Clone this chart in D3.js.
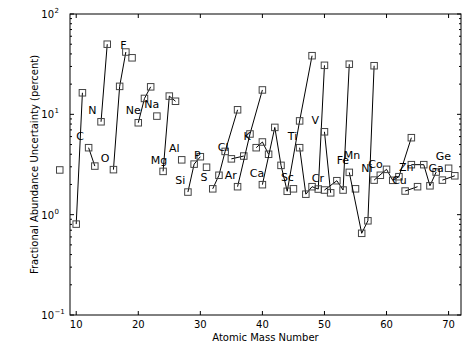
<!DOCTYPE html>
<html>
  <head>
    <meta charset="utf-8">
    <script src="https://cdn.jsdelivr.net/npm/d3@7"></script>
    <style>
    body {
      margin: 0;
      background: #fff;
    }
    svg text {
      font-family: "DejaVu Sans", sans-serif;
    }
    .iso-line {
      fill: none;
      stroke: #000;
      stroke-width: 1px;
    }
    .iso-mark {
      fill: none;
      stroke: #444;
      stroke-width: 1px;
    }
    </style>
  </head>
  <body>
    <script>
    // element symbols, isotope masses and abundance uncertainty (percent)
    var elements = ["Li", "B", "C", "N", "O", "F", "Ne", "Na", "Mg", "Al", "Si", "P", "S", "Cl", "Ar", "K",
                    "Ca", "Sc", "Ti", "V", "Cr", "Mn", "Fe", "Co", "Ni", "Cu", "Zn", "Ga", "Ge"];
    var masses = [
      [7.35], [10, 11], [12, 13], [14, 15], [16, 17, 18], [19], [20, 21, 22], [23], [24, 25, 26], [27],
      [28, 29, 30], [31], [32, 33, 34, 36], [35, 37], [36, 38, 40], [39, 40, 41],
      [40, 42, 43, 44, 46, 48], [45], [46, 47, 48, 49, 50], [50, 51], [50, 52, 53, 54], [55],
      [54, 56, 57, 58], [59], [58, 60, 61, 62, 64], [63, 65], [64, 66, 67, 68], [69, 71], [70]
    ];
    var uncert = [
      [2.79], [0.805, 16.4], [4.65, 3.05], [8.43, 50], [2.81, 19.0, 41.8], [36.6], [8.24, 14.4, 18.8], [9.6],
      [2.7, 15.2, 13.5], [3.52], [1.68, 3.19, 3.78], [2.97], [1.81, 2.47, 4.27, 11.1], [3.6, 3.84],
      [1.9, 6.37, 17.5], [4.65, 5.3, 4.0], [1.99, 7.41, 3.1, 1.71, 8.6, 38.4], [1.81],
      [4.65, 1.6, 1.9, 1.8, 30.8], [6.7, 1.65], [1.76, 2.18, 1.76, 31.6], [1.81],
      [2.64, 0.652, 0.869, 30.5], [2.47], [2.21, 2.83, 2.2, 2.39, 5.85], [1.72, 1.9],
      [3.15, 3.15, 1.94, 2.66], [2.21, 2.44], [2.9]
    ];
    // where each symbol is written, in data units (null = no label)
    var labelMass = [null, null, 10.64, 12.62, 14.66, 17.6, 19.21, 22.17, 23.34, 25.8, 26.77, 29.53, 30.58, 33.68,
                     34.92, 37.54, 39.14, 44.03, 44.85, 48.53, 48.95, 54.42, 52.97, 58.23, 56.83, 62.09, 63.16, 67.99, 69.16];
    var labelVal = [null, null, 5.98, 11.0, 3.64, 48.3, 10.9, 12.4, 3.44, 4.61, 2.2, 3.9, 2.35, 4.65,
                    2.44, 6.08, 2.58, 2.37, 6.04, 8.63, 2.3, 3.93, 3.44, 3.17, 2.9, 2.21, 2.96, 2.9, 3.78];

    var xTicks = [10, 20, 30, 40, 50, 60, 70];
    var yTicks = [0.1, 1, 10, 100];
    var yExp = ["\u22121", "0", "1", "2"];

    var width = 468, height = 362;
    var margin = {left: 70, right: 7, top: 14, bottom: 47};

    var x = d3.scaleLinear().domain([9, 72]).range([margin.left, width - margin.right]);
    var y = d3.scaleLog().domain([0.1, 100]).range([height - margin.bottom, margin.top]);

    var svg = d3.select("body").append("svg")
        .attr("width", width)
        .attr("height", height);

    // minor ticks on the log axis
    var minor = [];
    [0.1, 1, 10].forEach(function (d) {
      for (var k = 2; k < 10; k++) minor.push(d * k);
    });

    var axes = svg.append("g");
    var x0 = x.range()[0], x1 = x.range()[1], y0 = y.range()[0], y1 = y.range()[1];

    minor.forEach(function (v) {
      axes.append("line").attr("x1", x0).attr("x2", x0 + 2).attr("y1", y(v)).attr("y2", y(v)).attr("stroke", "#000");
      axes.append("line").attr("x1", x1).attr("x2", x1 - 2).attr("y1", y(v)).attr("y2", y(v)).attr("stroke", "#000");
    });
    yTicks.forEach(function (v, i) {
      axes.append("line").attr("x1", x0).attr("x2", x0 + 4).attr("y1", y(v)).attr("y2", y(v)).attr("stroke", "#000");
      axes.append("line").attr("x1", x1).attr("x2", x1 - 4).attr("y1", y(v)).attr("y2", y(v)).attr("stroke", "#000");
      var t = axes.append("text")
          .attr("x", x0 - 16)
          .attr("y", y(v) + 4)
          .attr("text-anchor", "end")
          .style("font-size", "10px");
      t.text("10");
      axes.append("text")
          .attr("x", x0 - 15.5)
          .attr("y", y(v) - 1)
          .style("font-size", "7px")
          .text(yExp[i]);
    });
    xTicks.forEach(function (v) {
      axes.append("line").attr("x1", x(v)).attr("x2", x(v)).attr("y1", y0).attr("y2", y0 - 4).attr("stroke", "#000");
      axes.append("line").attr("x1", x(v)).attr("x2", x(v)).attr("y1", y1).attr("y2", y1 + 4).attr("stroke", "#000");
      axes.append("text")
          .attr("x", x(v))
          .attr("y", y0 + 13)
          .attr("text-anchor", "middle")
          .style("font-size", "10px")
          .text(v);
    });

    axes.append("text")
        .attr("x", (x0 + x1) / 2)
        .attr("y", y0 + 26)
        .attr("text-anchor", "middle")
        .style("font-size", "10px")
        .text("Atomic Mass Number");

    axes.append("text")
        .attr("transform", "translate(" + 38 + "," + ((y0 + y1) / 2) + ") rotate(-90)")
        .attr("text-anchor", "middle")
        .style("font-size", "10px")
        .text("Fractional Abundance Uncertainty (percent)");

    var line = d3.line()
        .x(function (d) { return x(d[0]); })
        .y(function (d) { return y(d[1]); });

    var plot = svg.append("g");
    var s = 6.5;

    elements.forEach(function (el, i) {
      var pts = masses[i].map(function (m, j) { return [m, uncert[i][j]]; });
      if (pts.length > 1) {
        plot.append("path").datum(pts).attr("class", "iso-line").attr("d", line);
      }
      plot.selectAll(null)
        .data(pts)
        .enter().append("rect")
        .attr("class", "iso-mark")
        .attr("x", function (d) { return x(d[0]) - s / 2; })
        .attr("y", function (d) { return y(d[1]) - s / 2; })
        .attr("width", s)
        .attr("height", s);
      if (labelMass[i] != null) {
        plot.append("text")
          .attr("x", x(labelMass[i]))
          .attr("y", y(labelVal[i]))
          .attr("text-anchor", "middle")
          .attr("dominant-baseline", "central")
          .style("font-size", "11px")
          .text(el);
      }
    });

    // frame on top
    svg.append("rect")
        .attr("x", x0).attr("y", y1)
        .attr("width", x1 - x0).attr("height", y0 - y1)
        .attr("fill", "none").attr("stroke", "#000").attr("stroke-width", 1);
    </script>
  </body>
</html>
